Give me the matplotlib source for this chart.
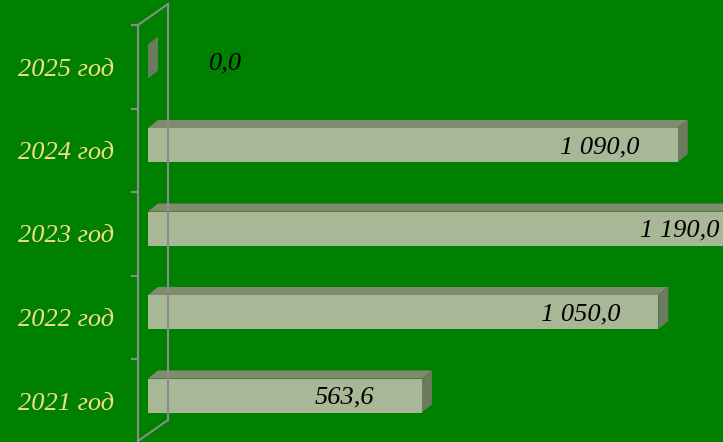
import matplotlib.pyplot as plt
from matplotlib.patches import Polygon, Rectangle

# Data
years = ['2021 год', '2022 год', '2023 год', '2024 год', '2025 год']
values = [563.6, 1050.0, 1190.0, 1090.0, 0.0]
value_labels = ['563,6', '1 050,0', '1 190,0', '1 090,0', '0,0']

bg = '#008000'
front_c = '#a8b795'
top_c = '#808b6e'
side_c = '#6c7a60'
wall_c = '#8c8c8c'
label_c = '#f2de86'

fig = plt.figure(figsize=(7.23, 4.42), dpi=100, facecolor=bg)
ax = fig.add_axes([0, 0, 1, 1])
ax.set_facecolor(bg)
ax.axis('off')

# pixel -> data scale
ppx = 0.486          # px per value unit
step = 83.5          # px per category
x0_px = 148
c0_px = 400.5        # pixel y of first category centre
ux = 1 / ppx
uy = 1 / step

xmin = -x0_px * ux
xmax = (723 - x0_px) * ux
ax.set_xlim(xmin, xmax)
ax.set_ylim((c0_px - 442) * uy, c0_px * uy)

def px(xp, yp):
    return ((xp - x0_px) * ux, (c0_px - yp) * uy)

# walls / axis lines
ax.plot(*zip(px(138, 25), px(138, 445)), color=wall_c, lw=1.5, clip_on=False)
ax.plot(*zip(px(168, 4), px(168, 420)), color=wall_c, lw=1.5)
ax.plot(*zip(px(138, 25), px(168, 4)), color=wall_c, lw=1.5)
ax.plot(*zip(px(168, 420), px(138, 441)), color=wall_c, lw=1.5)
for k in range(5):
    yb = 25 + k * step
    ax.plot(*zip(px(132, yb), px(138, yb)), color=wall_c, lw=1.5)

# 3D bars
h = 34 * uy
dx, dy = 10 * ux, 8 * uy
for i, (v, lab) in enumerate(zip(values, value_labels)):
    yc = i + 5 * uy
    y0, y1 = yc - h / 2, yc + h / 2
    if v > 0:
        ax.add_patch(Polygon([(0, y1), (dx, y1 + dy), (v + dx, y1 + dy), (v, y1)],
                             closed=True, fc=top_c, ec='none'))
        ax.add_patch(Polygon([(v, y0), (v + dx, y0 + dy), (v + dx, y1 + dy), (v, y1)],
                             closed=True, fc=side_c, ec='none'))
        ax.add_patch(Rectangle((0, y0), v, h, fc=front_c, ec='none'))
    else:
        ax.add_patch(Polygon([(0, y0), (dx, y0 + dy), (dx, y1 + dy), (0, y1)],
                             closed=True, fc=side_c, ec='none'))
    # value label
    if v > xmax:
        lx = xmax - 88
    else:
        lx = max(v - 160, 160)
    ax.text(lx, yc - 2 * uy, lab, ha='center', va='center', fontsize=19,
            style='italic', family='Liberation Serif', color='black')
    # category label
    ax.text(px(66, 0)[0], i - 3 * uy, years[i], ha='center', va='center', fontsize=19,
            style='italic', family='Liberation Serif', color=label_c)

fig.savefig('out.png', dpi=100, facecolor=bg)
